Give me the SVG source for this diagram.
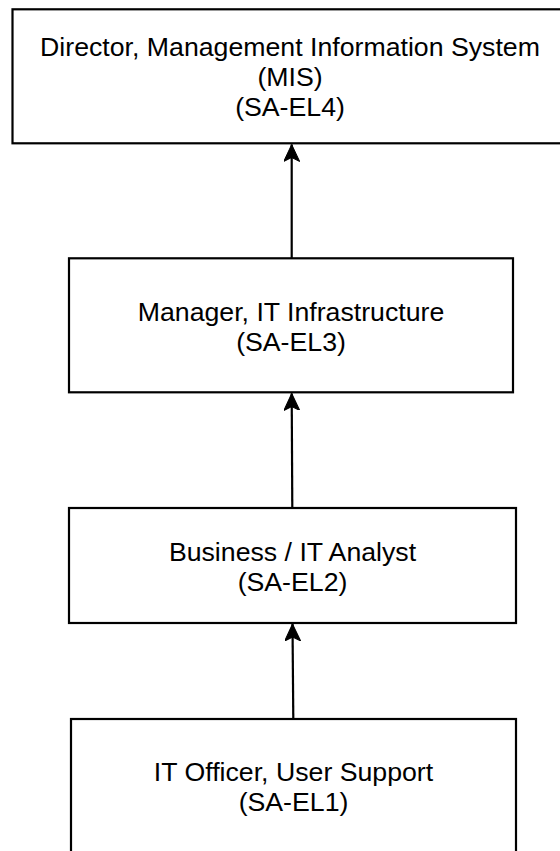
<svg xmlns="http://www.w3.org/2000/svg" width="560" height="851" viewBox="0 0 560 851">
  <style>
    .box { fill: #ffffff; stroke: #000000; stroke-width: 2.2; }
    .lbl { font-family: "Liberation Sans", Arial, Helvetica, sans-serif; font-size: 26.7px; fill: #000000; text-anchor: middle; }
    .edge { fill: none; stroke: #000000; stroke-width: 2.2; }
  </style>
  <defs>
    <marker id="arrow" markerUnits="userSpaceOnUse" viewBox="0 0 18 16" refX="17" refY="8" markerWidth="18" markerHeight="16" orient="auto">
      <path d="M17,8 L0,0 L4,8 L0,16 Z" fill="#000000" stroke="#000000" stroke-width="1"/>
    </marker>
  </defs>
  <rect width="560" height="851" fill="#ffffff"/>
  <g id="connectors">
    <line class="edge" x1="291.7" y1="258" x2="291.7" y2="144.5" marker-end="url(#arrow)"/>
    <line class="edge" x1="292.3" y1="508" x2="291.7" y2="393.5" marker-end="url(#arrow)"/>
    <line class="edge" x1="293.3" y1="719" x2="292.5" y2="624" marker-end="url(#arrow)"/>
  </g>
  <g id="node-el4">
    <rect class="box" x="12.5" y="9.3" width="555" height="134"/>
    <text class="lbl" x="290" y="56">Director, Management Information System</text>
    <text class="lbl" x="290" y="86">(MIS)</text>
    <text class="lbl" x="290" y="116">(SA-EL4)</text>
  </g>
  <g id="node-el3">
    <rect class="box" x="69" y="258.3" width="444" height="134"/>
    <text class="lbl" x="291" y="321">Manager, IT Infrastructure</text>
    <text class="lbl" x="291" y="351">(SA-EL3)</text>
  </g>
  <g id="node-el2">
    <rect class="box" x="69" y="508" width="447" height="115"/>
    <text class="lbl" x="292.5" y="561">Business / IT Analyst</text>
    <text class="lbl" x="292.5" y="591">(SA-EL2)</text>
  </g>
  <g id="node-el1">
    <rect class="box" x="71" y="719" width="445" height="134"/>
    <text class="lbl" x="293.5" y="781">IT Officer, User Support</text>
    <text class="lbl" x="293.5" y="811">(SA-EL1)</text>
  </g>
</svg>
